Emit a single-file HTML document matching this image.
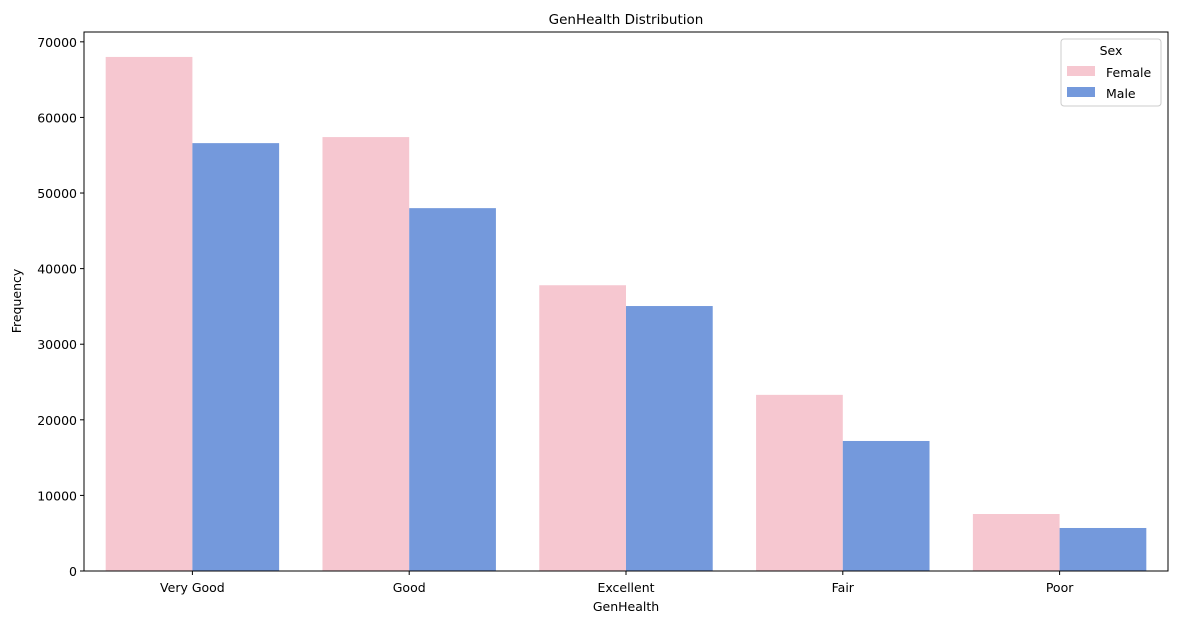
<!DOCTYPE html>
<html><head><meta charset="utf-8"><style>
body{margin:0;background:#fff;font-family:"Liberation Sans","DejaVu Sans",sans-serif;}
svg text{font-family:"DejaVu Sans","Liberation Sans",sans-serif;}
</style></head><body>
<svg id="chart" width="1178" height="624" xmlns="http://www.w3.org/2000/svg">
<text x="626" y="24" text-anchor="middle" font-size="13.5">GenHealth Distribution</text>
<g id="bars"></g>
<g id="axes"></g>
<rect x="84" y="32" width="1084" height="539" fill="none" stroke="#000" stroke-width="1"/>
<text x="626" y="611" text-anchor="middle" font-size="12.5">GenHealth</text>
<text x="21" y="301" text-anchor="middle" font-size="12.5" transform="rotate(-90 21 301)">Frequency</text>
<g>
<rect x="1061" y="39" width="100" height="67" rx="3" fill="#fff" stroke="#ccc"/>
<text x="1111" y="55" text-anchor="middle" font-size="12.5">Sex</text>
<rect x="1067" y="66" width="28" height="10" fill="#f6c7d0"/>
<text x="1106" y="77" font-size="12.5">Female</text>
<rect x="1067" y="87" width="28" height="10" fill="#7499dc"/>
<text x="1106" y="98" font-size="12.5">Male</text>
</g>
</svg>
<script>
const categories=["Very Good","Good","Excellent","Fair","Poor"];
const femaleValues=[68000,57400,37800,23300,7540];
const maleValues=[56600,48000,35050,17200,5690];
const yTicks=[0,10000,20000,30000,40000,50000,60000,70000];
const NS="http://www.w3.org/2000/svg";
const L=84,R=1168,T=32,B=571,yMax=71300;
const band=(R-L)/categories.length;
const xc=i=>L+band*(i+0.5);
const y=v=>B-(v/yMax)*(B-T);
const bars=document.getElementById('bars'),axes=document.getElementById('axes');
function mk(tag,attrs,parent){const e=document.createElementNS(NS,tag);for(const k in attrs)e.setAttribute(k,attrs[k]);parent.appendChild(e);return e;}
const bw=band*0.4;
categories.forEach((c,i)=>{
  const f=mk('rect',{x:xc(i)-bw,y:y(femaleValues[i]),width:bw,height:B-y(femaleValues[i]),fill:'#f6c7d0'},bars);
  
  
  const m=mk('rect',{x:xc(i),y:y(maleValues[i]),width:bw,height:B-y(maleValues[i]),fill:'#7499dc'},bars);
  
  
  const t=mk('line',{x1:xc(i),x2:xc(i),y1:B,y2:B+4,stroke:'#000'},axes);
  
  
  const l=mk('text',{x:xc(i),y:B+21,'text-anchor':'middle','font-size':12.5},axes);
  l.textContent=c;
  
  
});
yTicks.forEach(v=>{
  const t=mk('line',{x1:L-4,x2:L,y1:y(v),y2:y(v),stroke:'#000'},axes);
  
  
  const l=mk('text',{x:L-7,y:y(v)+5,'text-anchor':'end','font-size':12.5},axes);
  l.textContent=v;
  
  
});
</script>
</body></html>
